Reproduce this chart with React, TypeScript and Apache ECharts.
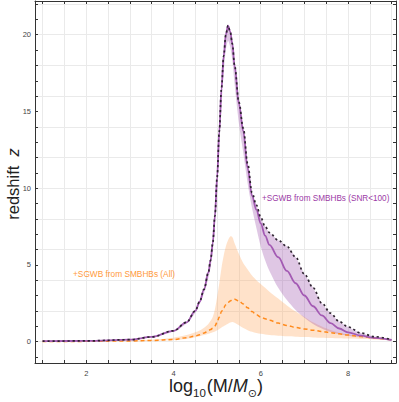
import React, { useEffect, useRef } from "react";
import * as echarts from "echarts";

// Common x grid: log10(M/Msun)
const X = [1, 2, 3, 3.5, 4, 4.3, 4.5, 4.6, 4.7, 4.8, 4.85, 4.9, 4.95, 5.0, 5.05, 5.1, 5.15, 5.2, 5.25, 5.3, 5.35, 5.4, 5.5, 5.6, 5.7, 5.8, 5.9, 6.0, 6.1, 6.2, 6.4, 6.6, 6.8, 7.0, 7.2, 7.4, 7.6, 7.8, 8.0, 8.3, 8.6, 9.0];

// Black dotted curve (upper edge of purple band)
const blackUpper = [0.02, 0.04, 0.12, 0.3, 0.7, 1.25, 2.0, 2.6, 3.4, 4.5, 5.3, 6.4, 8.2, 10.7, 13.7, 16.5, 18.6, 20.0, 20.6, 20.2, 19.4, 18.0, 15.6, 13.9, 11.6, 9.7, 8.9, 8.1, 7.5, 7.1, 6.6, 6.2, 5.5, 4.4, 3.5, 2.5, 1.85, 1.3, 0.95, 0.55, 0.32, 0.12];
// Purple solid curve
const purpleMid = [0.02, 0.04, 0.12, 0.3, 0.7, 1.25, 2.0, 2.6, 3.4, 4.5, 5.3, 6.4, 8.2, 10.7, 13.7, 16.5, 18.6, 20.0, 20.6, 20.2, 19.4, 18.0, 15.5, 13.7, 11.3, 9.5, 8.6, 7.7, 6.9, 6.3, 5.5, 4.6, 3.8, 3.0, 2.3, 1.7, 1.2, 0.85, 0.6, 0.38, 0.24, 0.1];
// Purple band lower edge
const purpleLow = [0.02, 0.04, 0.11, 0.28, 0.66, 1.18, 1.88, 2.45, 3.15, 4.15, 4.85, 5.85, 7.5, 9.8, 12.6, 15.3, 17.5, 19.0, 19.6, 19.2, 18.3, 16.8, 14.2, 12.3, 10.3, 8.7, 7.4, 6.2, 5.3, 4.6, 3.5, 2.7, 2.05, 1.55, 1.15, 0.85, 0.62, 0.48, 0.38, 0.28, 0.2, 0.1];
// Orange band
const orangeUp = [0.01, 0.02, 0.06, 0.12, 0.25, 0.42, 0.6, 0.72, 0.9, 1.15, 1.35, 1.6, 2.1, 2.9, 3.8, 4.8, 5.6, 6.2, 6.6, 6.85, 6.8, 6.4, 5.7, 5.1, 4.7, 4.3, 4.0, 3.75, 3.5, 3.25, 2.8, 2.35, 1.95, 1.6, 1.25, 0.98, 0.75, 0.58, 0.46, 0.33, 0.22, 0.1];
const orangeLow = [0, 0, 0.02, 0.04, 0.1, 0.17, 0.28, 0.35, 0.42, 0.5, 0.55, 0.6, 0.66, 0.74, 0.82, 0.92, 1.0, 1.08, 1.16, 1.24, 1.27, 1.22, 1.06, 0.88, 0.74, 0.63, 0.55, 0.5, 0.46, 0.43, 0.38, 0.34, 0.31, 0.29, 0.27, 0.25, 0.23, 0.21, 0.19, 0.16, 0.13, 0.08];
// Orange dashed curve
const orangeMid = [0, 0.01, 0.04, 0.07, 0.13, 0.25, 0.36, 0.44, 0.55, 0.7, 0.78, 0.87, 1.02, 1.25, 1.6, 1.95, 2.2, 2.4, 2.55, 2.65, 2.72, 2.76, 2.65, 2.45, 2.2, 1.95, 1.75, 1.6, 1.48, 1.38, 1.2, 1.05, 0.92, 0.82, 0.74, 0.66, 0.58, 0.5, 0.42, 0.32, 0.22, 0.1];

// Axes
const X_MIN = 0.826;
const X_MAX = 9.1;
const Y_MIN = -1.4;
const Y_MAX = 22.2;
const X_LABELS = [2, 4, 6, 8];
const X_TICKS = [1, 1.5, 2, 2.5, 3, 3.5, 4, 4.5, 5, 5.5, 6, 6.5, 7, 7.5, 8, 8.5, 9];
const Y_LABELS = [0, 5, 10, 15, 20];
const Y_TICKS = [-1, 0, 1, 2, 3, 4, 5, 6, 7, 8, 9, 10, 11, 12, 13, 14, 15, 16, 17, 18, 19, 20, 21, 22];
const Y_GRID = [0, 2, 4, 6, 8, 10, 12, 14, 16, 18, 20, 22];

const LABEL_SNR = "+SGWB from SMBHBs (SNR<100)";
const LABEL_ALL = "+SGWB from SMBHBs (All)";

const FONT = "'Liberation Sans', Arial, sans-serif";

const pairs = (ys: number[]) => X.map((x, i) => [x, ys[i]]);

function bandSeries(up: number[], low: number[], fill: string, z: number) {
  return {
    type: "custom",
    coordinateSystem: "cartesian2d",
    xAxisIndex: 0,
    yAxisIndex: 0,
    silent: true,
    z,
    data: [[X[0], up[0]]],
    encode: { x: 0, y: 1 },
    renderItem: (_params: any, api: any) => {
      const pts: number[][] = [];
      for (let i = 0; i < X.length; i++) pts.push(api.coord([X[i], up[i]]));
      for (let i = X.length - 1; i >= 0; i--) pts.push(api.coord([X[i], low[i]]));
      return {
        type: "polygon",
        shape: { points: pts, smooth: 0.3 },
        style: { fill, stroke: "none" },
      };
    },
  };
}

export default function App() {
  const ref = useRef<HTMLDivElement>(null);
  useEffect(() => {
    document.body.style.margin = "0";
    const chart = echarts.init(ref.current!, null, { renderer: "svg" });
    const frameColor = "#333";
    const tick = { inside: true, length: 3, lineStyle: { color: frameColor, width: 1 } };
    const smooth = 0.35;
    const option: any = {
      animation: false,
      grid: { left: 35, right: 3, top: 1, bottom: 39, containLabel: false },
      xAxis: [
        {
          type: "value", min: X_MIN, max: X_MAX, position: "bottom",
          axisLine: { onZero: false, lineStyle: { color: frameColor, width: 1 } },
          axisTick: { ...tick, customValues: X_TICKS },
          axisLabel: { customValues: X_LABELS, fontSize: 7.5, color: "#444", margin: 6, fontFamily: FONT },
          splitLine: { show: true, lineStyle: { color: "#eaeaea", width: 1 } },
        },
        {
          type: "value", min: X_MIN, max: X_MAX, position: "top",
          axisLine: { onZero: false, lineStyle: { color: frameColor, width: 1 } },
          axisTick: { ...tick, customValues: X_TICKS },
          axisLabel: { show: false },
          splitLine: { show: false },
        },
      ],
      yAxis: [
        {
          type: "value", min: Y_MIN, max: Y_MAX, position: "left",
          axisLine: { show: true, onZero: false, lineStyle: { color: frameColor, width: 1 } },
          axisTick: { ...tick, customValues: Y_TICKS },
          axisLabel: { customValues: Y_LABELS, fontSize: 7.5, color: "#444", margin: 4, fontFamily: FONT },
          splitLine: { show: false },
        },
        {
          type: "value", min: Y_MIN, max: Y_MAX, position: "right",
          axisLine: { show: true, onZero: false, lineStyle: { color: frameColor, width: 1 } },
          axisTick: { ...tick, customValues: Y_TICKS },
          axisLabel: { show: false },
          splitLine: { show: false },
        },
        {
          type: "value", min: Y_MIN, max: Y_MAX, position: "left",
          axisLine: { show: false },
          axisTick: { show: false, customValues: Y_GRID },
          axisLabel: { show: false },
          splitLine: { show: true, lineStyle: { color: "#eaeaea", width: 1 } },
        },
      ],
      series: [
        bandSeries(orangeUp, orangeLow, "rgba(255,168,95,0.33)", 1),
        bandSeries(blackUpper, purpleLow, "rgba(150,70,165,0.3)", 2),
        {
          type: "line", data: pairs(orangeMid), symbol: "none", smooth, smoothMonotone: "x",
          lineStyle: { color: "#ff8a1c", width: 1.5, type: [4, 3] }, z: 3,
        },
        {
          type: "line", data: pairs(purpleMid), symbol: "none", smooth, smoothMonotone: "x",
          lineStyle: { color: "#a35ab3", width: 1.8 }, z: 4,
        },
        {
          type: "line", data: pairs(blackUpper), symbol: "none", smooth, smoothMonotone: "x",
          lineStyle: { color: "#2e2430", width: 1.7, type: [2.2, 2.8] }, z: 5,
        },
      ],
      graphic: [
        {
          type: "text", x: 262, y: 198, z: 100,
          style: { text: LABEL_SNR, fill: "#9c3aa6", fontSize: 8.2, fontFamily: FONT, verticalAlign: "middle", align: "left" },
        },
        {
          type: "text", x: 73, y: 274, z: 100,
          style: { text: LABEL_ALL, fill: "#ff9a3c", fontSize: 8.3, fontFamily: FONT, verticalAlign: "middle", align: "left" },
        },
        {
          type: "text", x: 216, y: 388, z: 100,
          style: {
            text: "{a|log}{s|10}{a|(M/}{i|M}{o|⊙}{a|)}",
            align: "center", verticalAlign: "middle", fill: "#222", fontFamily: FONT,
            rich: {
              a: { fontSize: 18, fontFamily: FONT, fill: "#222", verticalAlign: "bottom", padding: [0, 0, 4, 0] },
              i: { fontSize: 18, fontFamily: FONT, fontStyle: "italic", fill: "#222", verticalAlign: "bottom", padding: [0, 0, 4, 0] },
              s: { fontSize: 11.5, fontFamily: FONT, fill: "#222", verticalAlign: "bottom", padding: [0, 1, 0, 0] },
              o: { fontSize: 11, fontFamily: "DejaVu Sans", fill: "#222", verticalAlign: "bottom", padding: [0, 0, 0, 0] },
            },
          },
        },
        {
          type: "text", x: 13, y: 184, rotation: Math.PI / 2, z: 100,
          style: {
            text: "{a|redshift  }{i|z}",
            align: "center", verticalAlign: "middle", fill: "#222", fontFamily: FONT,
            rich: {
              a: { fontSize: 16.5, fontFamily: FONT, fill: "#222" },
              i: { fontSize: 16.5, fontFamily: FONT, fontStyle: "italic", fill: "#222" },
            },
          },
        },
      ],
    };
    chart.setOption(option);
    return () => chart.dispose();
  }, []);
  return <div ref={ref} style={{ width: 399, height: 402 }} />;
}
